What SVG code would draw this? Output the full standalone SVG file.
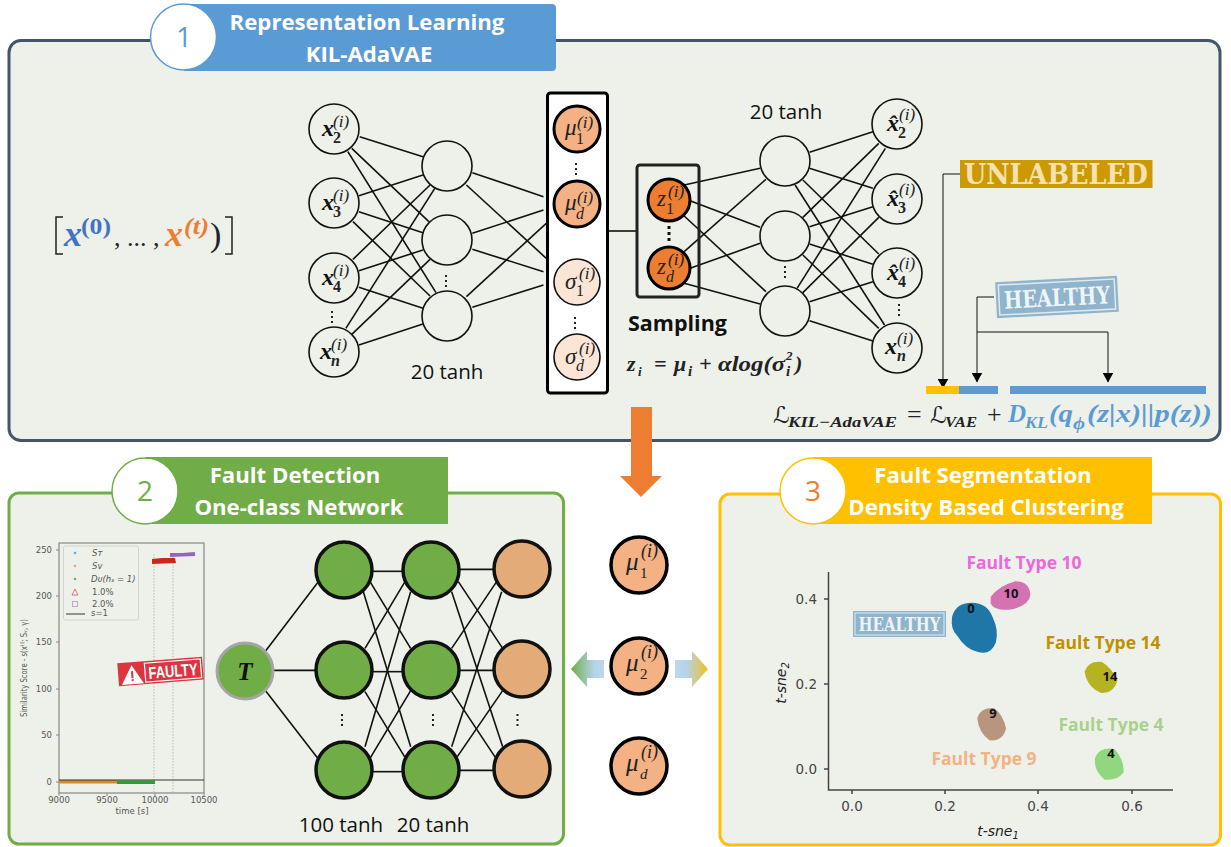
<svg xmlns="http://www.w3.org/2000/svg" width="1231" height="847" viewBox="0 0 1231 847">
<style>
text{font-family:"Liberation Serif",serif}
.ban{font-family:"Open Sans","Noto Sans",sans-serif;font-weight:700;font-size:22.200px;fill:#fff;text-anchor:middle}
.num{font-family:"Open Sans","Noto Sans",sans-serif;font-size:28px;text-anchor:middle}
.lbl{font-family:"Open Sans","Noto Sans",sans-serif;font-size:20.5px;fill:#111;text-anchor:middle}
.ft{font-family:"Open Sans","Noto Sans",sans-serif;font-weight:700;font-size:17.5px;text-anchor:middle}
.samp{font-family:"Open Sans","Noto Sans",sans-serif;font-weight:700;font-size:21.500px;fill:#111}
.panel{fill:#eef1ea;stroke-width:3}
.n0{fill:#eef1ea;stroke:#111;stroke-width:1.6}
.mu{fill:#f4b183;stroke:#000;stroke-width:3}
.mu2{fill:#f4b183;stroke:#000;stroke-width:3.5}
.sg{fill:#fbe5d6;stroke:#111;stroke-width:1.6}
.z{fill:#ed7d31;stroke:#000;stroke-width:3}
.g{fill:#70ad47;stroke:#111;stroke-width:3.5}
.o{fill:#e2ab78;stroke:#111;stroke-width:3.5}
.c line{stroke:#111;stroke-width:1.6;vector-effect:non-scaling-stroke}
.dots{stroke:#222;stroke-width:2;stroke-dasharray:2 3;fill:none}
.xb{font-size:24px;font-weight:bold;font-style:italic;fill:#111}
.m{font-size:23px;font-style:italic;fill:#222}
.mb{font-size:25px;font-style:italic;fill:#222}
.sup{font-size:17px;font-style:italic;fill:#222}
.supb{font-size:18px;font-style:italic;fill:#222}
.sub{font-size:16px;font-weight:bold;fill:#222}
.subi{font-size:16px;font-style:italic;fill:#222}
.subb{font-size:16px;font-style:italic;font-weight:bold;fill:#222}
.subn{font-size:16px;fill:#222}
.subl{font-size:15px;fill:#222}
.subli{font-size:15px;font-style:italic;fill:#222}
.f{font-size:22px;font-weight:bold;font-style:italic;fill:#222}
.fr{font-size:26px;fill:#222}
.ll{font-family:"DejaVu Sans",sans-serif;font-size:23px;font-style:italic;fill:#222}
.fs{font-size:15px;font-weight:bold;font-style:italic;fill:#222}
.fs2{font-size:13px;font-weight:bold;font-style:italic;fill:#222}
.fb{font-size:25px;font-weight:bold;font-style:italic;fill:#5b9bd5}
.fbs{font-size:16px;font-weight:bold;font-style:italic;fill:#5b9bd5}
.ax{stroke:#444;stroke-width:1.5;fill:none}
.ax1{stroke:#888;stroke-width:1.2;fill:none}
.t1{font-family:"DejaVu Sans",sans-serif;font-size:8.500px;fill:#555}
.t2{font-family:"DejaVu Sans",sans-serif;font-size:13.500px;fill:#444}
.t3{font-family:"DejaVu Sans",sans-serif;font-size:14px;font-style:italic;fill:#222}
.bn{font-family:"Open Sans","Noto Sans",sans-serif;font-size:13px;font-weight:bold;fill:#111;text-anchor:middle}
.st{font-family:"DejaVu Serif",serif;font-weight:bold;fill:#eef4f8;text-anchor:middle}
.un{font-family:"DejaVu Serif",serif;font-weight:bold;font-size:28px;fill:#f5e2b0;text-anchor:middle}
.fa{font-family:"Liberation Sans",sans-serif;font-weight:bold;font-size:17px;fill:#fff;text-anchor:middle}
</style>
<defs>
<marker id="ah" markerWidth="11" markerHeight="10" refX="5.500" refY="9.500" orient="0" markerUnits="userSpaceOnUse" viewBox="0 0 11 10"><path d="M0 0H11L5.500 10Z" fill="#000"/></marker>
<linearGradient id="gl" x1="0" x2="1" y1="0" y2="0"><stop offset="0" stop-color="#70ad47"/><stop offset="0.7" stop-color="#b5d3ea"/><stop offset="1" stop-color="#bdd7ee"/></linearGradient>
<linearGradient id="gr" x1="0" x2="1" y1="0" y2="0"><stop offset="0" stop-color="#bdd7ee"/><stop offset="0.35" stop-color="#b5d3ea"/><stop offset="1" stop-color="#f0c020"/></linearGradient>
</defs>
<rect width="1231" height="847" fill="#fff"/>

<g id="panel1"><rect class="panel" x="9" y="40.5" width="1211" height="400" rx="12" stroke="#44546a"/>
<path d="M184 4H552a4 4 0 0 1 4 4V67a4 4 0 0 1-4 4H184Z" fill="#5b9bd5"/>
<circle cx="183.500" cy="37" r="33" fill="#fff" stroke="#5b9bd5" stroke-width="1.500"/>
<text class="num" x="184" y="47" fill="#5b9bd5">1</text>
<text class="ban" x="367" y="30">Representation Learning</text>
<text class="ban" x="369" y="62">KIL-AdaVAE</text></g>

<g id="panel2"><rect class="panel" x="9" y="493" width="554.500" height="351" rx="10" stroke="#70ad47"/>
<path d="M145 457H448V524H145Z" fill="#70ad47"/>
<circle cx="145" cy="491" r="33" fill="#fff" stroke="#70ad47" stroke-width="1.500"/>
<text class="num" x="145" y="501" fill="#70ad47">2</text>
<text class="ban" x="295" y="483">Fault Detection</text>
<text class="ban" x="299" y="515">One-class Network</text></g>

<g id="panel3"><rect class="panel" x="720" y="494" width="500.500" height="351" rx="10" stroke="#ffc000"/>
<path d="M813 457H1152V524H813Z" fill="#ffc000"/>
<circle cx="813" cy="491" r="33" fill="#fff" stroke="#ffc000" stroke-width="1.500"/>
<text class="num" x="813" y="501" fill="#ed7d31">3</text>
<text class="ban" x="983" y="483">Fault Segmentation</text>
<text class="ban" x="986" y="515">Density Based Clustering</text></g>

<g id="seq">
<path d="M63 217H56V254H63M225 217H232V254H225" fill="none" stroke="#222" stroke-width="1.500"/>
<text x="64" y="246" font-size="36" font-weight="bold" font-style="italic" fill="#4472c4">x</text>
<text x="81" y="234" font-size="24" font-weight="bold" fill="#4472c4" textLength="30" lengthAdjust="spacingAndGlyphs">(0)</text>
<text x="114" y="246" font-size="26" fill="#222">, ... ,</text>
<text x="165" y="246" font-size="36" font-weight="bold" font-style="italic" fill="#ed7d31">x</text>
<text x="184" y="234" font-size="24" font-weight="bold" font-style="italic" fill="#ed7d31" textLength="25" lengthAdjust="spacingAndGlyphs">(t)</text>
<text x="210" y="246" font-size="34" fill="#222">)</text>
</g>

<g id="connectors">
<g class="c" transform="scale(.39526 .33333)">
<line x1="910" y1="410" x2="1070" y2="470"/><line x1="890" y1="445" x2="1085" y2="665"/><line x1="880" y1="455" x2="1103" y2="878"/>
<line x1="908" y1="587" x2="1070" y2="525"/><line x1="908" y1="635" x2="1070" y2="698"/><line x1="893" y1="665" x2="1088" y2="888"/>
<line x1="893" y1="778" x2="1088" y2="555"/><line x1="908" y1="812" x2="1070" y2="750"/><line x1="908" y1="862" x2="1070" y2="925"/>
<line x1="875" y1="985" x2="1100" y2="565"/><line x1="890" y1="1003" x2="1088" y2="778"/><line x1="908" y1="1035" x2="1070" y2="972"/>
<line x1="1195" y1="518" x2="1375" y2="590"/><line x1="1180" y1="555" x2="1382" y2="775"/>
<line x1="1195" y1="700" x2="1375" y2="630"/><line x1="1195" y1="748" x2="1375" y2="815"/>
<line x1="1180" y1="890" x2="1382" y2="670"/><line x1="1195" y1="922" x2="1375" y2="855"/>
</g>
<g class="c"><line x1="608" y1="231" x2="637" y2="231"/></g>
<g class="c" transform="translate(620 80) scale(.3891 .33333)">
<line x1="165" y1="315" x2="360" y2="265"/><line x1="180" y1="362" x2="360" y2="442"/><line x1="165" y1="408" x2="375" y2="635"/>
<line x1="165" y1="515" x2="375" y2="298"/><line x1="180" y1="565" x2="360" y2="490"/><line x1="165" y1="610" x2="360" y2="672"/>
<line x1="487" y1="217" x2="650" y2="155"/><line x1="487" y1="265" x2="650" y2="325"/><line x1="470" y1="300" x2="665" y2="522"/><line x1="450" y1="315" x2="680" y2="735"/>
<line x1="470" y1="412" x2="665" y2="190"/><line x1="487" y1="440" x2="650" y2="380"/><line x1="487" y1="492" x2="650" y2="553"/><line x1="470" y1="525" x2="665" y2="745"/>
<line x1="455" y1="625" x2="682" y2="205"/><line x1="470" y1="638" x2="665" y2="412"/><line x1="487" y1="665" x2="650" y2="605"/><line x1="487" y1="722" x2="650" y2="783"/>
</g>
<g class="c" transform="translate(200 530) scale(.33333)">
<line x1="195" y1="365" x2="355" y2="155"/><line x1="218" y1="421" x2="350" y2="421"/><line x1="195" y1="480" x2="355" y2="687"/>
<line x1="518" y1="124" x2="610" y2="124"/><line x1="518" y1="425" x2="610" y2="425"/><line x1="518" y1="725" x2="610" y2="725"/>
<line x1="510" y1="155" x2="632" y2="355"/><line x1="490" y1="185" x2="632" y2="650"/><line x1="495" y1="355" x2="615" y2="155"/>
<line x1="495" y1="485" x2="615" y2="682"/><line x1="495" y1="650" x2="632" y2="185"/><line x1="510" y1="685" x2="632" y2="482"/>
<line x1="778" y1="118" x2="882" y2="118"/><line x1="778" y1="421" x2="882" y2="421"/><line x1="778" y1="721" x2="882" y2="721"/>
<line x1="775" y1="155" x2="908" y2="355"/><line x1="755" y1="185" x2="908" y2="650"/><line x1="755" y1="355" x2="890" y2="155"/>
<line x1="755" y1="485" x2="888" y2="685"/><line x1="755" y1="650" x2="905" y2="185"/><line x1="772" y1="680" x2="908" y2="482"/>
</g>
<path d="M960 174H943V388" fill="none" stroke="#111" stroke-width="1" marker-end="url(#ah)"/>
<path d="M994 297H977V382" fill="none" stroke="#111" stroke-width="1" marker-end="url(#ah)"/>
<path d="M977 332H1108V382" fill="none" stroke="#111" stroke-width="1" marker-end="url(#ah)"/>
</g>

<g id="x2" transform="translate(334 129)"><circle class="n0" r="25"/><text class="xb" x="-12" y="7">x</text><text class="sup" x="-1" y="-2">(i)</text><text class="sub" x="-1" y="14">2</text></g>
<g id="x3" transform="translate(334 203)"><circle class="n0" r="25"/><text class="xb" x="-12" y="7">x</text><text class="sup" x="-1" y="-2">(i)</text><text class="sub" x="-1" y="14">3</text></g>
<g id="x4" transform="translate(334 278)"><circle class="n0" r="25"/><text class="xb" x="-12" y="7">x</text><text class="sup" x="-1" y="-2">(i)</text><text class="sub" x="-1" y="14">4</text></g>
<g id="xn" transform="translate(334 352)"><circle class="n0" r="25"/><text class="xb" x="-14" y="7">x</text><text class="sup" x="-3" y="-2">(i)</text><text class="subb" x="-3" y="14">n</text></g>
<line class="dots" x1="332" y1="311" x2="332" y2="323"/>
<g id="h1"><circle class="n0" cx="447" cy="166" r="25"/></g>
<g id="h2"><circle class="n0" cx="447" cy="240" r="25"/></g>
<g id="h3"><circle class="n0" cx="447" cy="316" r="25"/></g>
<line class="dots" x1="446" y1="275" x2="446" y2="287"/>
<text class="lbl" x="447" y="379">20 tanh</text>

<g id="latent"><rect x="547.500" y="93" width="60" height="300" rx="3" fill="#fff" stroke="#000" stroke-width="3"/>
<g id="mu1" transform="translate(577 129)"><circle class="mu" r="23"/><text class="m" x="-12" y="6">μ</text><text class="sup" x="0" y="-1">(i)</text><text class="subn" x="-1" y="15">1</text></g>
<line class="dots" x1="576" y1="163" x2="576" y2="175"/>
<g id="mud" transform="translate(577 204)"><circle class="mu" r="23"/><text class="m" x="-12" y="6">μ</text><text class="sup" x="0" y="-1">(i)</text><text class="subi" x="-1" y="15">d</text></g>
<g id="sig1" transform="translate(577 282)"><circle class="sg" r="23"/><text class="m" x="-12" y="7">σ</text><text class="sup" x="2" y="-3">(i)</text><text class="subn" x="-1" y="14">1</text></g>
<line class="dots" x1="575" y1="317" x2="575" y2="329"/>
<g id="sigd" transform="translate(577 357)"><circle class="sg" r="23"/><text class="m" x="-12" y="7">σ</text><text class="sup" x="2" y="-3">(i)</text><text class="subi" x="-1" y="14">d</text></g></g>

<g id="sampling"><rect x="637" y="165" width="62" height="132" rx="3" fill="none" stroke="#222" stroke-width="3"/>
<g id="z1" transform="translate(669 200)"><circle class="z" r="21"/><text class="m" x="-12" y="6">z</text><text class="sup" x="-1" y="-3">(i)</text><text class="subn" x="-3" y="14">1</text></g>
<line x1="669" y1="226" x2="669" y2="243" stroke="#111" stroke-width="3" stroke-dasharray="3 3"/>
<g id="zd" transform="translate(669 268)"><circle class="z" r="21"/><text class="m" x="-12" y="6">z</text><text class="sup" x="-1" y="-3">(i)</text><text class="subi" x="-3" y="14">d</text></g>
<text class="samp" x="628" y="331">Sampling</text>
<text class="f" x="627" y="371">z</text><text class="fs2" x="638" y="376">i</text>
<text class="f" x="654" y="371">=</text><text class="f" x="674" y="371">μ</text><text class="fs" x="688" y="376">i</text>
<text class="f" x="699" y="371">+</text><text class="f" x="718" y="371" textLength="67" lengthAdjust="spacingAndGlyphs">αlog(σ</text>
<text class="fs2" x="786" y="360">2</text><text class="fs" x="786" y="376">i</text><text class="f" x="795" y="371">)</text></g>

<text class="lbl" x="786" y="119">20 tanh</text>
<g id="d1"><circle class="n0" cx="785" cy="161" r="25"/></g>
<g id="d2"><circle class="n0" cx="785" cy="236" r="25"/></g>
<g id="d3"><circle class="n0" cx="785" cy="311" r="25"/></g>
<line class="dots" x1="785" y1="266" x2="785" y2="278"/>
<g id="o2" transform="translate(897 124)"><circle class="n0" r="25"/><text class="xb" x="-10" y="7">x̂</text><text class="sup" x="2" y="-4">(i)</text><text class="sub" x="1" y="14">2</text></g>
<g id="o3" transform="translate(897 199)"><circle class="n0" r="25"/><text class="xb" x="-10" y="7">x̂</text><text class="sup" x="2" y="-4">(i)</text><text class="sub" x="1" y="14">3</text></g>
<g id="o4" transform="translate(897 273)"><circle class="n0" r="25"/><text class="xb" x="-10" y="7">x̂</text><text class="sup" x="2" y="-4">(i)</text><text class="sub" x="1" y="14">4</text></g>
<g id="on" transform="translate(897 348)"><circle class="n0" r="25"/><text class="xb" x="-12" y="6">x</text><text class="sup" x="0" y="-4">(i)</text><text class="subb" x="0" y="13">n</text></g>
<line class="dots" x1="899" y1="304" x2="899" y2="316"/>

<g id="unlabeled"><rect x="960" y="160" width="192.500" height="28" fill="#cc9900"/>
<text class="un" x="1056" y="184" textLength="184" lengthAdjust="spacingAndGlyphs">UNLABELED</text></g>
<g id="healthy1" transform="rotate(-3 1057 297)"><rect x="996" y="279" width="122" height="36" fill="#8fb4cc"/><rect x="999" y="282" width="116" height="30" fill="none" stroke="#dfeaf0" stroke-width="1.500"/>
<text class="st" x="1057" y="306" font-size="24" textLength="106" lengthAdjust="spacingAndGlyphs">HEALTHY</text></g>
<g id="bars"><rect x="926" y="386" width="33" height="8" fill="#ffc000"/><rect x="959" y="386" width="39" height="8" fill="#5b9bd5"/><rect x="1010" y="386" width="196" height="8" fill="#5b9bd5"/></g>

<g id="loss">
<text class="ll" x="773" y="423">ℒ</text>
<text class="fs" x="788" y="427" textLength="109" lengthAdjust="spacingAndGlyphs">KIL−AdaVAE</text>
<text class="fr" x="907" y="423">=</text>
<text class="ll" x="930" y="423">ℒ</text>
<text class="fs" x="945" y="427" textLength="32" lengthAdjust="spacingAndGlyphs">VAE</text>
<text class="fr" x="987" y="423">+</text>
<text class="fb" x="1008" y="422">D</text><text class="fbs" x="1025" y="428" textLength="23" lengthAdjust="spacingAndGlyphs">KL</text>
<text class="fb" x="1049" y="422" textLength="24" lengthAdjust="spacingAndGlyphs">(q</text><text class="fbs" x="1073" y="429" textLength="12" lengthAdjust="spacingAndGlyphs">ϕ</text>
<text class="fb" x="1087" y="422" textLength="125" lengthAdjust="spacingAndGlyphs">(z|x)||p(z))</text>
</g>

<path id="down-arrow" d="M631 407H652V476H662L641 497L620 476H631Z" fill="#ed7d31"/>

<g id="m1" transform="translate(639 565)"><circle class="mu2" r="28"/><text class="mb" x="-13" y="5">μ</text><text class="supb" x="2" y="-8">(i)</text><text class="subl" x="1" y="13">1</text></g>
<g id="m2" transform="translate(639 666)"><circle class="mu2" r="28"/><text class="mb" x="-13" y="5">μ</text><text class="supb" x="2" y="-8">(i)</text><text class="subl" x="1" y="13">2</text></g>
<g id="m3" transform="translate(639 766)"><circle class="mu2" r="28"/><text class="mb" x="-13" y="5">μ</text><text class="supb" x="2" y="-8">(i)</text><text class="subli" x="1" y="13">d</text></g>
<path id="arrow-left" d="M571 669L587 651V660H604V678H587V687Z" fill="url(#gl)"/>
<path id="arrow-right" d="M675 660H692V651L708 669L692 687V678H675Z" fill="url(#gr)"/>

<g id="t" transform="translate(245 671)"><circle r="28" fill="#70ad47" stroke="#a5a5a5" stroke-width="3"/><text x="0" y="9" text-anchor="middle" font-size="25" font-weight="bold" font-style="italic" fill="#111">T</text></g>
<g id="l11"><circle class="g" cx="344" cy="570" r="28"/></g>
<g id="l12"><circle class="g" cx="344" cy="670" r="28"/></g>
<g id="l13"><circle class="g" cx="344" cy="770" r="28"/></g>
<g id="l21"><circle class="g" cx="431" cy="570" r="28"/></g>
<g id="l22"><circle class="g" cx="431" cy="670" r="28"/></g>
<g id="l23"><circle class="g" cx="431" cy="770" r="28"/></g>
<g id="l31"><circle class="o" cx="522" cy="569" r="28"/></g>
<g id="l32"><circle class="o" cx="522" cy="669" r="28"/></g>
<g id="l33"><circle class="o" cx="522" cy="769" r="28"/></g>
<line class="dots" x1="342" y1="714" x2="342" y2="726"/><line class="dots" x1="433" y1="714" x2="433" y2="726"/><line class="dots" x1="517.500" y1="714" x2="517.500" y2="726"/>
<text class="lbl" x="341" y="832">100 tanh</text><text class="lbl" x="433" y="832">20 tanh</text>

<g id="chart1">
<rect class="ax1" x="59" y="543" width="145" height="250"/>
<g stroke="#888" stroke-width="1"><path d="M56 550H59M56 596H59M56 642H59M56 689H59M56 735H59M56 782H59M59 793V796M107 793V796M155 793V796M204 793V796"/></g>
<g text-anchor="end"><text class="t1" x="52" y="553">250</text><text class="t1" x="52" y="599">200</text><text class="t1" x="52" y="645">150</text><text class="t1" x="52" y="692">100</text><text class="t1" x="52" y="738">50</text><text class="t1" x="52" y="785">0</text></g>
<g text-anchor="middle"><text class="t1" x="59" y="803">9000</text><text class="t1" x="107" y="803">9500</text><text class="t1" x="155" y="803">10000</text><text class="t1" x="204" y="803">10500</text><text class="t1" x="132" y="814">time [s]</text></g>
<text class="t1" x="0" y="0" text-anchor="middle" transform="translate(27 668) rotate(-90)" textLength="98" lengthAdjust="spacingAndGlyphs">Similarity Score - s(x⁽ⁱ⁾; Sᵥ, γ)</text>
<path d="M154 554V793M173 554V793" stroke="#aaa" stroke-width=".8" stroke-dasharray="1.500 1.500" fill="none"/>
<path d="M152 559L162 558L175 558L176 563L152 564Z" fill="#c8281e"/>
<path d="M170 553L182 553L195 552V556L170 557Z" fill="#9467bd"/>
<rect x="59" y="780" width="58" height="3.500" fill="#d98a30"/><rect x="117" y="780.500" width="38" height="3.500" fill="#2ca02c"/>
<line x1="59" y1="780" x2="204" y2="780" stroke="#333" stroke-width="1"/>
<rect x="63.500" y="546" width="75" height="74" rx="2" fill="#eef1ea" stroke="#ccc" stroke-width=".8"/>
<circle cx="75" cy="553" r="1.300" fill="#6aa8d0"/><circle cx="75" cy="566" r="1.300" fill="#f0a860"/><circle cx="75" cy="579" r="1.300" fill="#60b860"/>
<path d="M75 589L78 595H72Z" fill="none" stroke="#d66" stroke-width=".9"/><rect x="72.500" y="601.500" width="5" height="5" fill="none" stroke="#b59fd0" stroke-width=".9"/>
<line x1="66" y1="614" x2="85" y2="614" stroke="#555" stroke-width="1.200"/>
<text class="t1" x="92" y="556" font-style="italic">Sᴛ</text><text class="t1" x="92" y="569" font-style="italic">Sᴠ</text><text class="t1" x="91" y="582" font-style="italic">Dᴜ(hₛ = 1)</text><text class="t1" x="92" y="595">1.0%</text><text class="t1" x="92" y="607">2.0%</text><text class="t1" x="91" y="616">s=1</text>
<g id="faulty" transform="rotate(-4.500 160 671)"><rect x="118" y="660" width="85" height="23" fill="#dc3540"/>
<path d="M121 682L132 663L143 682Z" fill="#fff"/><rect x="131" y="669" width="2" height="7" fill="#dc3540"/><rect x="131" y="677" width="2" height="2" fill="#dc3540"/>
<rect x="145" y="662" width="56" height="19" fill="#dc3540" stroke="#fff" stroke-width="1.200"/>
<text class="fa" x="173" y="678" textLength="49" lengthAdjust="spacingAndGlyphs">FAULTY</text></g>
</g>

<g id="chart2">
<path class="ax" d="M828.500 572V790H1173"/>
<path class="ax" d="M824 599H828M824 684H828M824 769H828M852 790V794M945 790V794M1038 790V794M1132 790V794" stroke-width="1"/>
<text class="t2" x="817" y="604" text-anchor="end">0.4</text><text class="t2" x="817" y="689" text-anchor="end">0.2</text><text class="t2" x="817" y="774" text-anchor="end">0.0</text>
<text class="t2" x="852" y="811" text-anchor="middle">0.0</text><text class="t2" x="945" y="811" text-anchor="middle">0.2</text><text class="t2" x="1038" y="811" text-anchor="middle">0.4</text><text class="t2" x="1132" y="811" text-anchor="middle">0.6</text>
<text class="t3" x="998" y="836" text-anchor="middle">t-sne<tspan font-size="10" dy="3">1</tspan></text>
<text class="t3" x="0" y="0" text-anchor="middle" transform="translate(786 683) rotate(-90)">t-sne<tspan font-size="10" dy="3">2</tspan></text>
<g transform="translate(780 540) scale(.33333)" stroke-width="8" stroke-linejoin="round">
<path fill="#1f77a8" stroke="#1f77a8" d="M520 232Q530 192 575 192Q620 192 635 235Q652 270 644 305Q630 342 595 332Q560 325 535 285Q515 265 520 232Z"/>
<path fill="#d473b0" stroke="#d473b0" d="M636 172Q660 140 705 128Q745 128 747 165Q745 190 700 203Q650 212 636 190Z"/>
<path fill="#b5b420" stroke="#b5b420" d="M918 395Q930 365 965 370Q990 385 1008 420Q1000 455 965 455Q925 440 918 395Z"/>
<path fill="#b8957f" stroke="#b8957f" d="M596 535Q605 505 640 508Q665 525 674 565Q665 600 630 597Q600 575 596 535Z"/>
<path fill="#90d77f" stroke="#90d77f" d="M949 655Q960 625 1000 630Q1028 660 1027 695Q1010 718 975 715Q945 690 949 655Z"/>
</g>
<text class="bn" x="1011" y="598">10</text><text class="bn" x="971" y="613">0</text><text class="bn" x="1110" y="681">14</text><text class="bn" x="993" y="718">9</text><text class="bn" x="1111" y="758">4</text>
<g id="healthy2"><rect x="853" y="611" width="93" height="26" fill="#8fb4cc"/><rect x="855" y="613" width="89" height="22" fill="none" stroke="#dfeaf0" stroke-width="1"/>
<text class="st" x="899.500" y="631" font-size="18" textLength="82" lengthAdjust="spacingAndGlyphs">HEALTHY</text></g>
<text class="ft" x="1024" y="569" fill="#ee66dd">Fault Type 10</text>
<text class="ft" x="1103" y="649" fill="#bf9000">Fault Type 14</text>
<text class="ft" x="1111" y="731" fill="#a9d18e">Fault Type 4</text>
<text class="ft" x="984" y="765" fill="#f4b183">Fault Type 9</text>
</g>
</svg>
